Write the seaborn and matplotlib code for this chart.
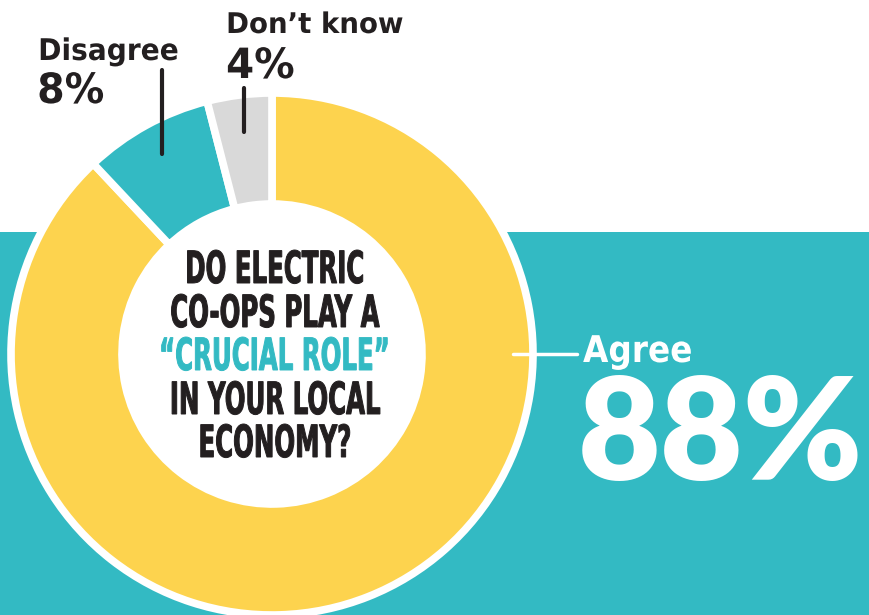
import matplotlib
matplotlib.use("Agg")
import matplotlib.pyplot as plt
import seaborn as sns
from matplotlib.patches import Circle
from matplotlib.patheffects import AbstractPathEffect
from matplotlib.transforms import Affine2D
import numpy as np

# ---- data ----
categories = ["Agree", "Disagree", "Don’t know"]
values = [88, 8, 4]
value_labels = ["88%", "8%", "4%"]
question_lines = ["DO ELECTRIC", "CO-OPS PLAY A", "“CRUCIAL ROLE”", "IN YOUR LOCAL", "ECONOMY?"]

# ---- style ----
sns.set_theme(style="white")
YELLOW = "#FDD34E"
TEAL = "#33BAC3"
GRAY = "#D9D9D9"
DARK = "#231F20"
palette = sns.color_palette([YELLOW, TEAL, GRAY])

W, H = 870, 615


def Y(py):
    return H - py


class Squeeze(AbstractPathEffect):
    """Horizontally condense text rendering (text stays a Text artist)."""

    def __init__(self, sx, anchor="center", stroke=0.0, color=None):
        super().__init__()
        self.sx = sx
        self.anchor = anchor
        self.stroke = stroke
        self.color = color

    def draw_path(self, renderer, gc, tpath, affine, rgbFace=None):
        ext = tpath.get_extents(affine)
        cx = (ext.x0 + ext.x1) / 2 if self.anchor == "center" else ext.x0
        t = affine + Affine2D().translate(-cx, 0).scale(self.sx, 1).translate(cx, 0)
        if self.stroke:
            gc0 = renderer.new_gc()
            gc0.copy_properties(gc)
            gc0.set_foreground(self.color if self.color is not None else rgbFace)
            gc0.set_linewidth(self.stroke)
            gc0.set_joinstyle("miter")
            renderer.draw_path(gc0, tpath, t, rgbFace)
            gc0.restore()
        else:
            renderer.draw_path(gc, tpath, t, rgbFace)


fig = plt.figure(figsize=(8.7, 6.15), dpi=100)
fig.patch.set_facecolor("white")
ax = fig.add_axes([0, 0, 1, 1])

# teal background band
ax.axhspan(0, Y(232), color=TEAL, zorder=0, lw=0)

cx, cy = 272, Y(354)
r_out, r_in = 261, 150
ax.pie(values, colors=palette, startangle=90, counterclock=False,
       radius=r_out, center=(cx, cy),
       wedgeprops=dict(width=r_out - r_in, edgecolor="white", linewidth=5.5))
ax.add_patch(Circle((cx, cy), r_in + 1, facecolor="white", edgecolor="none", zorder=3))

ax.set_xlim(0, W)
ax.set_ylim(0, H)
ax.set_aspect("auto")
ax.axis("off")

# leader lines from wedge mid-angles
fr = np.array(values) / sum(values)
start = 90.0
mids = []
for f in fr:
    mids.append(start - f * 360 / 2)
    start -= f * 360
mids = [m % 360 for m in mids]
# Disagree
a = np.deg2rad(mids[1]); x0 = cx + 228 * np.cos(a); y0 = cy + 228 * np.sin(a)
ax.plot([x0, x0], [y0, Y(70)], color=DARK, lw=3, solid_capstyle="round", zorder=5)
# Don't know
a = np.deg2rad(mids[2]); x0 = cx + 224 * np.cos(a); y0 = cy + 224 * np.sin(a)
ax.plot([x0, x0], [y0, Y(88)], color=DARK, lw=3, solid_capstyle="round", zorder=5)
# Agree
ax.plot([cx + 241, 577], [cy, cy], color="white", lw=2.5, solid_capstyle="round", zorder=5)

lab = dict(family="DejaVu Sans", fontweight="bold")
ax.text(38, Y(60), categories[1], color=DARK, fontsize=21.5, ha="left", va="baseline",
        path_effects=[Squeeze(0.94, "left")], **lab)
ax.text(37, Y(103), value_labels[1], color=DARK, fontsize=30, ha="left", va="baseline",
        path_effects=[Squeeze(0.95, "left")], **lab)
ax.text(226, Y(33), categories[2], color=DARK, fontsize=20.5, ha="left", va="baseline",
        path_effects=[Squeeze(0.97, "left")], **lab)
ax.text(226, Y(78), value_labels[2], color=DARK, fontsize=30, ha="left", va="baseline",
        path_effects=[Squeeze(0.97, "left")], **lab)
ax.text(583, Y(362), categories[0], color="white", fontsize=26.5, ha="left", va="baseline",
        path_effects=[Squeeze(0.89, "left")], **lab)
ax.text(578, Y(480), value_labels[0], color="white", fontsize=103, ha="left", va="baseline",
        family="Lato", fontweight="heavy")

# centre question
baselines = [283, 327, 370, 414, 457]
for i, (line, b) in enumerate(zip(question_lines, baselines)):
    col = TEAL if i == 2 else DARK
    ax.text(275, Y(b), line, color=col, fontsize=32,
            family="DejaVu Sans", fontweight="bold",
            ha="center", va="baseline", zorder=6,
            path_effects=[Squeeze(0.55, "center", stroke=0.7, color=col)])

fig.savefig("out.png", dpi=100, facecolor="white")
